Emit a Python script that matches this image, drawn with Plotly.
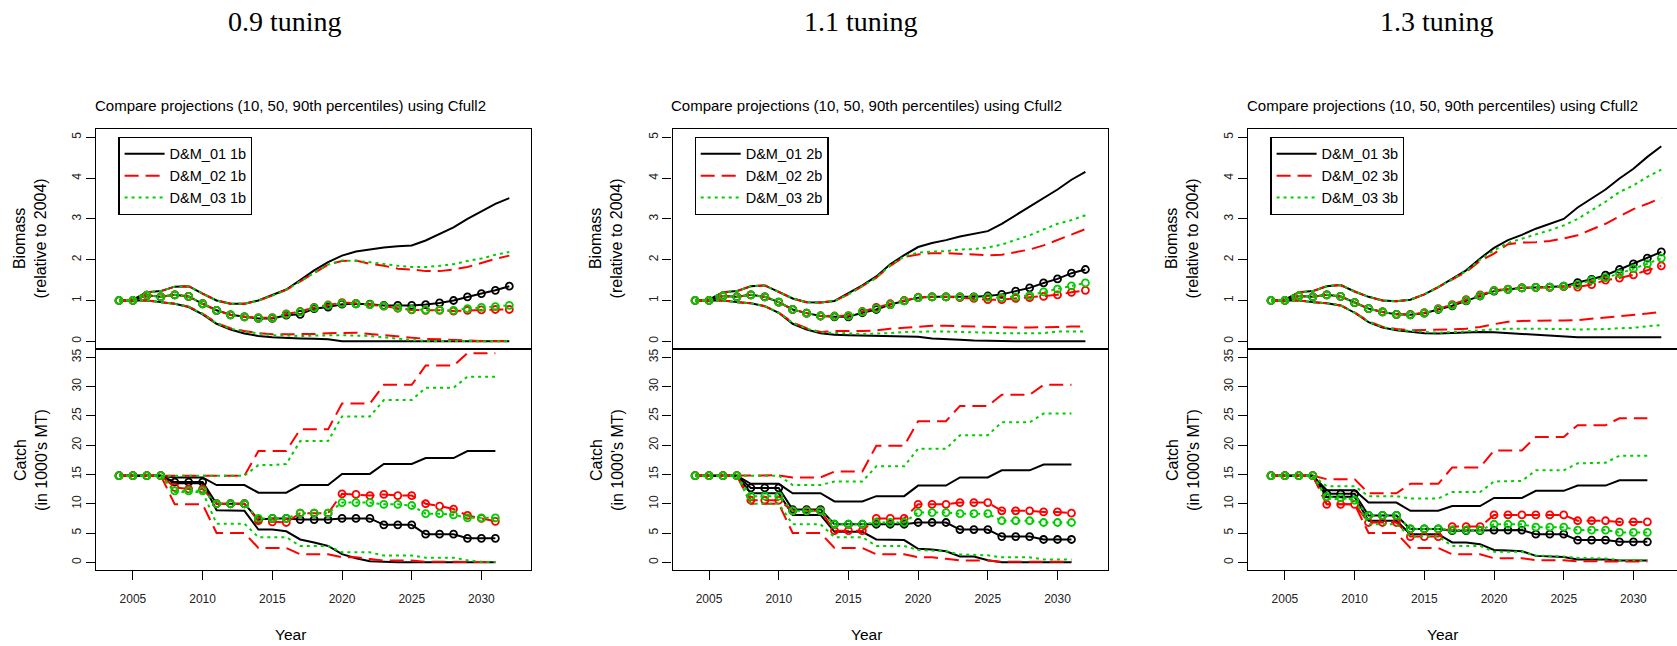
import plotly.graph_objects as go

# ---------------- data ----------------
years_bio = list(range(2004, 2033))
years_catch = list(range(2004, 2032))

panel_titles = ["0.9 tuning", "1.1 tuning", "1.3 tuning"]
subtitle = "Compare projections (10, 50, 90th percentiles) using Cfull2"
labels_p1 = ["D&M_01 1b", "D&M_02 1b", "D&M_03 1b"]
labels_p2 = ["D&M_01 2b", "D&M_02 2b", "D&M_03 2b"]
labels_p3 = ["D&M_01 3b", "D&M_02 3b", "D&M_03 3b"]
x_ticks = [2005, 2010, 2015, 2020, 2025, 2030]
bio_ticks = [0, 1, 2, 3, 4, 5]
catch_ticks = [0, 5, 10, 15, 20, 25, 30, 35]

# Panel 1 (0.9 tuning) biomass
b1_hi_01 = [1.0,1.02,1.2,1.23,1.34,1.35,1.17,1.0,0.92,0.92,1.0,1.13,1.27,1.5,1.74,1.94,2.1,2.2,2.25,2.3,2.33,2.35,2.47,2.62,2.79,3.0,3.19,3.37,3.51]
b1_hi_02 = [1.0,1.02,1.2,1.23,1.34,1.35,1.17,1.0,0.92,0.92,1.0,1.12,1.26,1.47,1.68,1.88,1.97,1.98,1.9,1.85,1.78,1.76,1.72,1.72,1.76,1.82,1.92,2.02,2.1]
b1_hi_03 = [1.0,1.02,1.2,1.23,1.34,1.35,1.17,1.0,0.92,0.92,1.0,1.12,1.26,1.47,1.68,1.88,1.98,1.97,1.94,1.89,1.85,1.82,1.82,1.85,1.89,1.97,2.03,2.12,2.19]
b1_med_01 = [1.0,1.0,1.13,1.09,1.14,1.1,0.92,0.76,0.65,0.6,0.56,0.56,0.64,0.66,0.8,0.84,0.91,0.92,0.91,0.88,0.88,0.88,0.9,0.94,1.0,1.09,1.17,1.25,1.35]
b1_med_02 = [1.0,1.0,1.13,1.09,1.14,1.1,0.92,0.76,0.65,0.6,0.58,0.58,0.67,0.73,0.83,0.89,0.95,0.93,0.9,0.86,0.81,0.77,0.76,0.76,0.74,0.76,0.77,0.78,0.78]
b1_med_03 = [1.0,1.0,1.13,1.09,1.14,1.1,0.92,0.76,0.65,0.6,0.57,0.57,0.66,0.72,0.82,0.88,0.93,0.92,0.9,0.87,0.82,0.78,0.77,0.77,0.76,0.8,0.83,0.85,0.88]
b1_lo_01 = [1.0,1.0,1.0,0.96,0.92,0.84,0.66,0.43,0.29,0.19,0.13,0.1,0.08,0.07,0.06,0.05,0.0,0.0,0.0,0.0,0.0,0.0,0.0,0.0,0.0,0.0,0.0,0.0,0.0]
b1_lo_02 = [1.0,1.0,1.0,0.96,0.92,0.85,0.68,0.45,0.32,0.25,0.2,0.17,0.17,0.17,0.18,0.2,0.21,0.21,0.18,0.15,0.11,0.08,0.06,0.05,0.03,0.02,0.01,0.01,0.01]
b1_lo_03 = [1.0,1.0,1.0,0.96,0.92,0.85,0.67,0.44,0.31,0.24,0.19,0.15,0.14,0.13,0.14,0.15,0.15,0.14,0.13,0.1,0.06,0.03,0.01,0.01,0.0,0.0,0.0,0.0,0.0]

# Panel 1 catch
c1_hi_01 = [14.8,14.8,14.8,14.8,14.5,14.5,14.5,13.2,13.2,13.2,11.9,11.9,11.9,13.2,13.2,13.2,15.1,15.1,15.1,16.8,16.8,16.8,17.8,17.8,17.8,19.0,19.0,19.0]
c1_hi_02 = [14.8,14.8,14.8,14.8,14.8,14.8,14.8,14.8,14.8,14.8,19.0,19.0,19.0,22.7,22.7,22.7,27.1,27.1,27.1,30.3,30.3,30.3,33.6,33.6,33.6,35.7,35.7,35.7]
c1_hi_03 = [14.8,14.8,14.8,14.8,14.8,14.8,14.8,14.8,14.8,14.8,16.6,16.6,16.8,20.7,20.7,20.7,24.9,24.9,24.9,27.7,27.7,27.7,29.8,29.8,29.8,31.7,31.7,31.7]
c1_med_01 = [14.8,14.8,14.8,14.8,13.7,13.7,13.7,10.0,10.0,10.0,7.3,7.5,7.5,7.3,7.3,7.3,7.5,7.5,7.5,6.4,6.4,6.4,4.8,4.8,4.8,4.1,4.1,4.1]
c1_med_02 = [14.8,14.8,14.8,14.8,12.8,12.5,12.5,10.0,10.0,10.0,7.1,6.9,6.8,8.4,8.4,8.4,11.7,11.6,11.4,11.6,11.4,11.4,10.0,9.6,9.1,8.0,7.5,7.0]
c1_med_03 = [14.8,14.8,14.8,14.8,12.2,12.2,12.2,10.0,10.0,10.0,7.5,7.5,7.5,8.4,8.4,8.4,10.2,10.2,10.2,9.9,9.9,9.7,8.3,8.3,8.1,7.6,7.6,7.6]
c1_lo_01 = [14.8,14.8,14.8,14.8,13.5,13.5,13.5,8.9,8.9,8.8,5.6,5.6,5.3,3.9,3.4,2.8,1.4,0.7,0.2,0.05,0.0,0.0,0.0,0.0,0.0,0.0,0.0,0.0]
c1_lo_02 = [14.8,14.8,14.8,14.8,9.9,9.9,9.9,5.0,5.0,5.0,2.45,2.45,2.45,1.37,1.37,1.37,0.85,0.85,0.55,0.3,0.3,0.3,0.1,0.1,0.1,0.05,0.05,0.05]
c1_lo_03 = [14.8,14.8,14.8,14.8,12.0,12.0,12.0,6.6,6.6,6.6,4.3,4.3,4.3,2.8,2.8,2.8,1.7,1.7,1.7,1.15,1.15,1.15,0.8,0.8,0.8,0.35,0.1,0.05]

# Panel 2 (1.1 tuning) biomass
b2_hi_01 = [1.0,1.02,1.2,1.23,1.35,1.37,1.21,1.05,0.96,0.95,0.99,1.17,1.37,1.59,1.89,2.11,2.31,2.41,2.48,2.57,2.64,2.7,2.88,3.09,3.31,3.52,3.72,3.96,4.15]
b2_hi_02 = [1.0,1.02,1.2,1.23,1.35,1.37,1.21,1.05,0.96,0.95,0.99,1.15,1.35,1.56,1.85,2.07,2.13,2.16,2.16,2.14,2.12,2.11,2.12,2.19,2.25,2.35,2.48,2.62,2.75]
b2_hi_03 = [1.0,1.02,1.2,1.23,1.35,1.37,1.21,1.05,0.96,0.95,0.99,1.15,1.35,1.56,1.86,2.08,2.17,2.2,2.21,2.25,2.26,2.3,2.37,2.48,2.6,2.74,2.88,2.97,3.09]
b2_med_01 = [1.0,1.0,1.11,1.09,1.14,1.09,0.96,0.78,0.69,0.62,0.6,0.6,0.7,0.78,0.9,0.99,1.07,1.09,1.09,1.09,1.09,1.11,1.15,1.23,1.31,1.43,1.53,1.67,1.76]
b2_med_02 = [1.0,1.0,1.11,1.09,1.14,1.09,0.96,0.78,0.69,0.62,0.62,0.63,0.73,0.83,0.92,1.0,1.08,1.09,1.09,1.07,1.05,1.02,1.02,1.05,1.07,1.1,1.14,1.2,1.25]
b2_med_03 = [1.0,1.0,1.11,1.09,1.14,1.09,0.96,0.78,0.69,0.62,0.61,0.62,0.72,0.8,0.9,0.99,1.07,1.09,1.09,1.09,1.08,1.08,1.07,1.09,1.12,1.21,1.28,1.36,1.43]
b2_lo_01 = [1.0,1.0,1.0,0.96,0.93,0.86,0.7,0.43,0.29,0.2,0.16,0.15,0.14,0.13,0.13,0.12,0.11,0.07,0.06,0.04,0.02,0.01,0.0,0.0,0.0,0.0,0.0,0.0,0.0]
b2_lo_02 = [1.0,1.0,1.0,0.96,0.93,0.86,0.7,0.46,0.32,0.23,0.25,0.25,0.25,0.27,0.31,0.33,0.36,0.38,0.38,0.37,0.36,0.35,0.35,0.34,0.34,0.34,0.35,0.36,0.36]
b2_lo_03 = [1.0,1.0,1.0,0.96,0.93,0.86,0.7,0.45,0.31,0.22,0.21,0.19,0.18,0.19,0.2,0.23,0.24,0.24,0.24,0.23,0.21,0.2,0.2,0.2,0.2,0.2,0.24,0.24,0.24]

# Panel 2 catch
c2_hi_01 = [14.8,14.8,14.8,14.8,13.4,13.4,13.4,11.8,11.8,11.8,10.4,10.4,10.4,11.3,11.3,11.3,13.1,13.1,13.1,14.5,14.5,14.5,15.7,15.7,15.7,16.7,16.7,16.7]
c2_hi_02 = [14.8,14.8,14.8,14.8,14.85,14.85,14.85,14.5,14.5,14.5,15.5,15.5,15.5,19.9,19.9,19.9,24.1,24.1,24.1,26.7,26.7,26.7,28.6,28.6,28.6,30.3,30.3,30.3]
c2_hi_03 = [14.8,14.8,14.8,14.8,14.8,14.8,14.8,13.2,13.2,13.2,13.8,13.8,13.8,16.4,16.4,16.4,19.4,19.4,19.4,21.7,21.7,21.7,23.9,23.9,23.9,25.4,25.4,25.4]
c2_med_01 = [14.8,14.8,14.8,14.8,12.7,12.7,12.7,9.0,9.0,9.0,6.5,6.5,6.5,6.5,6.5,6.5,6.8,6.8,6.8,5.6,5.6,5.6,4.4,4.4,4.4,3.9,3.9,3.9]
c2_med_02 = [14.8,14.8,14.8,14.8,10.6,10.6,10.6,8.8,8.8,8.8,5.4,5.4,5.4,7.5,7.5,7.5,9.9,9.9,9.9,10.2,10.2,10.2,8.8,8.8,8.8,8.6,8.6,8.4]
c2_med_03 = [14.8,14.8,14.8,14.8,11.3,11.3,11.3,8.8,8.8,8.8,6.5,6.5,6.5,6.8,6.8,6.8,8.5,8.5,8.5,8.3,8.3,8.3,7.1,7.1,7.1,6.8,6.8,6.8]
c2_lo_01 = [14.8,14.8,14.8,14.8,11.8,11.8,11.8,8.1,8.1,8.1,5.2,5.2,5.2,3.9,3.8,3.8,2.3,2.2,1.9,1.0,1.0,0.35,0.0,0.0,0.0,0.0,0.0,0.0]
c2_lo_02 = [14.8,14.8,14.8,14.8,10.0,10.0,10.0,5.0,5.0,5.0,2.45,2.45,2.45,1.37,1.37,1.37,0.85,0.85,0.6,0.35,0.3,0.3,0.1,0.1,0.1,0.1,0.1,0.1]
c2_lo_03 = [14.8,14.8,14.8,14.8,10.0,10.0,10.0,6.5,6.5,6.5,4.3,4.3,4.3,2.8,2.8,2.8,2.1,2.0,1.9,1.35,1.3,1.2,0.85,0.85,0.85,0.5,0.5,0.5]

# Panel 3 (1.3 tuning) biomass
b3_hi_01 = [1.0,1.02,1.2,1.23,1.35,1.38,1.22,1.09,1.0,0.98,1.02,1.15,1.33,1.54,1.74,2.03,2.29,2.48,2.61,2.76,2.88,3.0,3.28,3.5,3.72,3.99,4.23,4.52,4.78]
b3_hi_02 = [1.0,1.02,1.2,1.23,1.35,1.38,1.22,1.09,1.0,0.98,1.02,1.15,1.33,1.52,1.7,1.97,2.15,2.38,2.42,2.43,2.46,2.52,2.6,2.74,2.88,3.06,3.24,3.37,3.52]
b3_hi_03 = [1.0,1.02,1.2,1.23,1.35,1.38,1.22,1.09,1.0,0.98,1.02,1.15,1.33,1.52,1.72,2.0,2.23,2.41,2.52,2.62,2.72,2.84,3.0,3.21,3.42,3.66,3.82,4.03,4.21]
b3_med_01 = [1.0,1.0,1.11,1.09,1.14,1.1,0.95,0.8,0.72,0.66,0.65,0.69,0.78,0.87,0.99,1.11,1.23,1.27,1.31,1.32,1.33,1.35,1.44,1.52,1.62,1.76,1.9,2.04,2.19]
b3_med_02 = [1.0,1.0,1.11,1.09,1.14,1.1,0.95,0.8,0.72,0.66,0.66,0.7,0.8,0.9,1.02,1.14,1.25,1.28,1.31,1.32,1.32,1.34,1.33,1.39,1.5,1.55,1.63,1.74,1.85]
b3_med_03 = [1.0,1.0,1.11,1.09,1.14,1.1,0.95,0.8,0.72,0.66,0.65,0.69,0.79,0.88,1.0,1.12,1.24,1.27,1.31,1.32,1.33,1.35,1.39,1.5,1.56,1.66,1.78,1.9,2.04]
b3_lo_01 = [1.0,1.0,1.0,0.96,0.93,0.88,0.7,0.47,0.34,0.27,0.23,0.2,0.19,0.2,0.21,0.23,0.22,0.2,0.19,0.17,0.15,0.12,0.1,0.1,0.1,0.1,0.1,0.1,0.1]
b3_lo_02 = [1.0,1.0,1.0,0.96,0.93,0.88,0.71,0.49,0.36,0.3,0.27,0.28,0.28,0.29,0.31,0.35,0.42,0.48,0.5,0.5,0.51,0.51,0.52,0.55,0.58,0.61,0.64,0.68,0.72]
b3_lo_03 = [1.0,1.0,1.0,0.96,0.93,0.88,0.7,0.48,0.35,0.28,0.25,0.23,0.21,0.22,0.24,0.27,0.29,0.31,0.31,0.31,0.31,0.3,0.29,0.29,0.3,0.32,0.33,0.37,0.4]

# Panel 3 catch
c3_hi_01 = [14.8,14.8,14.8,14.8,12.3,12.3,12.3,10.2,10.2,10.2,8.8,8.8,8.8,9.6,9.6,9.6,11.0,11.0,11.0,12.2,12.2,12.2,13.1,13.1,13.1,14.0,14.0,14.0]
c3_hi_02 = [14.8,14.8,14.8,14.8,14.2,14.2,14.2,11.8,11.8,11.8,13.4,13.4,13.4,16.2,16.2,16.2,19.1,19.1,19.1,21.4,21.4,21.4,23.4,23.4,23.4,24.6,24.6,24.6]
c3_hi_03 = [14.8,14.8,14.8,14.8,13.0,13.0,13.0,11.3,11.3,11.3,10.9,10.9,10.9,12.0,12.0,12.0,13.8,13.8,13.9,15.7,15.7,15.7,16.9,16.9,17.0,18.2,18.2,18.2]
c3_med_01 = [14.8,14.8,14.8,14.8,11.7,11.7,11.7,8.0,8.0,8.0,5.7,5.7,5.7,5.4,5.4,5.4,5.5,5.5,5.5,4.8,4.8,4.8,3.8,3.8,3.8,3.5,3.5,3.5]
c3_med_02 = [14.8,14.8,14.8,14.8,9.9,9.9,9.9,6.8,6.8,6.8,4.4,4.4,4.4,6.1,6.1,6.1,8.1,8.1,8.1,8.1,8.1,8.1,7.1,7.1,7.1,6.9,6.9,6.9]
c3_med_03 = [14.8,14.8,14.8,14.8,11.2,11.0,10.6,8.0,8.0,8.0,5.7,5.7,5.7,5.5,5.5,5.5,6.5,6.5,6.5,6.0,6.0,6.0,5.5,5.5,5.5,5.1,5.1,5.1]
c3_lo_01 = [14.8,14.8,14.8,14.8,11.2,11.2,11.2,7.1,7.1,7.1,4.8,4.8,4.8,3.4,3.4,3.1,2.1,2.0,1.9,1.1,1.0,0.9,0.5,0.5,0.5,0.3,0.3,0.3]
c3_lo_02 = [14.8,14.8,14.8,14.8,9.9,9.9,9.9,5.0,5.0,5.0,2.45,2.45,2.45,1.37,1.37,1.37,0.7,0.7,0.7,0.35,0.35,0.35,0.17,0.17,0.17,0.15,0.15,0.15]
c3_lo_03 = [14.8,14.8,14.8,14.8,10.8,10.8,10.8,6.5,6.5,6.5,4.4,4.4,4.4,2.8,2.8,2.8,1.8,1.8,1.8,1.15,1.1,1.0,0.75,0.7,0.65,0.4,0.4,0.4]

# ---------------- assemble ----------------
panels = [
    dict(labels=labels_p1,
         bio=[(b1_lo_01, b1_med_01, b1_hi_01), (b1_lo_02, b1_med_02, b1_hi_02), (b1_lo_03, b1_med_03, b1_hi_03)],
         catch=[(c1_lo_01, c1_med_01, c1_hi_01), (c1_lo_02, c1_med_02, c1_hi_02), (c1_lo_03, c1_med_03, c1_hi_03)]),
    dict(labels=labels_p2,
         bio=[(b2_lo_01, b2_med_01, b2_hi_01), (b2_lo_02, b2_med_02, b2_hi_02), (b2_lo_03, b2_med_03, b2_hi_03)],
         catch=[(c2_lo_01, c2_med_01, c2_hi_01), (c2_lo_02, c2_med_02, c2_hi_02), (c2_lo_03, c2_med_03, c2_hi_03)]),
    dict(labels=labels_p3,
         bio=[(b3_lo_01, b3_med_01, b3_hi_01), (b3_lo_02, b3_med_02, b3_hi_02), (b3_lo_03, b3_med_03, b3_hi_03)],
         catch=[(c3_lo_01, c3_med_01, c3_hi_01), (c3_lo_02, c3_med_02, c3_hi_02), (c3_lo_03, c3_med_03, c3_hi_03)]),
]
for p in panels:
    for s in p["bio"]:
        for arr in s:
            assert len(arr) == len(years_bio), len(arr)
    for s in p["catch"]:
        for arr in s:
            assert len(arr) == len(years_catch), len(arr)

W, H = 1677, 646
colors = ["#000000", "#FF0000", "#00CD00"]
dashes = ["solid", "14px,7px", "3px,4px"]
SANS = "Liberation Sans, Arial, sans-serif"
SERIF = "Liberation Serif, Times New Roman, serif"

panel_left = [96.4, 672.5, 1248.4]
panel_w = 435.0
px_per_year = 13.94
x0_year = 2002.38
top_px = (129.3, 349.3)
bot_px = (349.3, 570.0)

def ax(n):
    return "" if n == 1 else str(n)

fig = go.Figure()
layout = dict(width=W, height=H, margin=dict(l=0, r=0, t=0, b=0),
              paper_bgcolor="white", plot_bgcolor="white", showlegend=True,
              font=dict(family=SANS, color="black"))
annotations = []

for pi, p in enumerate(panels):
    t = 2 * pi + 1
    b = 2 * pi + 2
    L = panel_left[pi]
    R = min(L + panel_w, W)
    xr = [x0_year, x0_year + (R - L) / px_per_year]
    leg = "legend" if pi == 0 else f"legend{pi+1}"
    mirror_y = pi < 2

    for kind, years, axn in (("bio", years_bio, t), ("catch", years_catch, b)):
        for si in range(3):
            lo, med, hi = p[kind][si]
            line = dict(color=colors[si], width=2, dash=dashes[si])
            for arr, is_med in ((hi, False), (lo, False), (med, True)):
                tr = dict(x=years, y=arr, xaxis="x" + ax(axn), yaxis="y" + ax(axn),
                          line=line, legend=leg, hoverinfo="skip",
                          name=p["labels"][si], showlegend=False)
                if is_med:
                    tr["mode"] = "lines+markers"
                    tr["marker"] = dict(symbol="circle-open", size=7, color=colors[si],
                                        line=dict(width=1.8, color=colors[si]))
                else:
                    tr["mode"] = "lines"
                if kind == "bio" and arr is hi:
                    tr["showlegend"] = True
                    tr["legendrank"] = si + 1
                fig.add_trace(go.Scatter(**tr))

    common_x = dict(domain=[L / W, R / W], range=xr, showline=True, mirror=True,
                    linecolor="black", linewidth=1.3, showgrid=False, zeroline=False)
    layout["xaxis" + ax(t)] = dict(common_x, anchor="y" + ax(t), showticklabels=False, ticks="")
    layout["xaxis" + ax(b)] = dict(common_x, anchor="y" + ax(b), tickmode="array", tickvals=x_ticks,
                                   ticks="outside", ticklen=9, tickwidth=1, tickcolor="black",
                                   tickfont=dict(size=12, family=SANS, color="#222"),
                                   ticklabelstandoff=8)
    common_y = dict(showline=True, mirror=mirror_y, linecolor="black", linewidth=1.3,
                    showgrid=False, zeroline=False, ticks="outside", ticklen=9, tickwidth=1,
                    tickcolor="black", tickangle=-90,
                    tickfont=dict(size=12, family=SANS, color="#222"), ticklabelstandoff=0)
    layout["yaxis" + ax(t)] = dict(common_y, anchor="x" + ax(t),
                                   domain=[1 - top_px[1] / H, 1 - top_px[0] / H],
                                   range=[-0.196, 5.196], tickmode="array", tickvals=bio_ticks)
    layout["yaxis" + ax(b)] = dict(common_y, anchor="x" + ax(b),
                                   domain=[1 - bot_px[1] / H, 1 - bot_px[0] / H],
                                   range=[-1.31, 36.37], tickmode="array", tickvals=catch_ticks)

    layout[leg] = dict(x=(L + 22) / W, y=1 - 136.7 / H, xanchor="left", yanchor="top",
                       bordercolor="black", borderwidth=1.2, bgcolor="white",
                       font=dict(size=14.5, family=SANS, color="black"),
                       tracegroupgap=0, itemwidth=40)

    dx = 576 * pi
    annotations.append(dict(text=panel_titles[pi], x=(285 + dx) / W, y=1 - 21.7 / H,
                            xref="paper", yref="paper", xanchor="center", yanchor="middle",
                            showarrow=False, font=dict(family=SERIF, size=28, color="black")))
    annotations.append(dict(text=subtitle, x=(290 + dx) / W, y=1 - 105.7 / H,
                            xref="paper", yref="paper", xanchor="center", yanchor="middle",
                            showarrow=False, font=dict(family=SANS, size=15, color="black")))
    annotations.append(dict(text="Year", x=(290 + dx) / W, y=1 - 634 / H,
                            xref="paper", yref="paper", xanchor="center", yanchor="middle",
                            showarrow=False, font=dict(family=SANS, size=15.5, color="black")))
    annotations.append(dict(text="Biomass<br>(relative to 2004)", x=(30.4 + dx) / W,
                            y=1 - 238 / H, xref="paper", yref="paper", xanchor="center",
                            yanchor="middle", textangle=-90, showarrow=False,
                            font=dict(family=SANS, size=16, color="black")))
    annotations.append(dict(text="Catch<br>(in 1000's MT)", x=(30.4 + dx) / W,
                            y=1 - 459.5 / H, xref="paper", yref="paper", xanchor="center",
                            yanchor="middle", textangle=-90, showarrow=False,
                            font=dict(family=SANS, size=16, color="black")))

layout["annotations"] = annotations
fig.update_layout(**layout)
fig.write_html("out.html", config={"displayModeBar": False},
               post_script="document.body.style.margin='0';document.body.style.overflow='hidden';")
